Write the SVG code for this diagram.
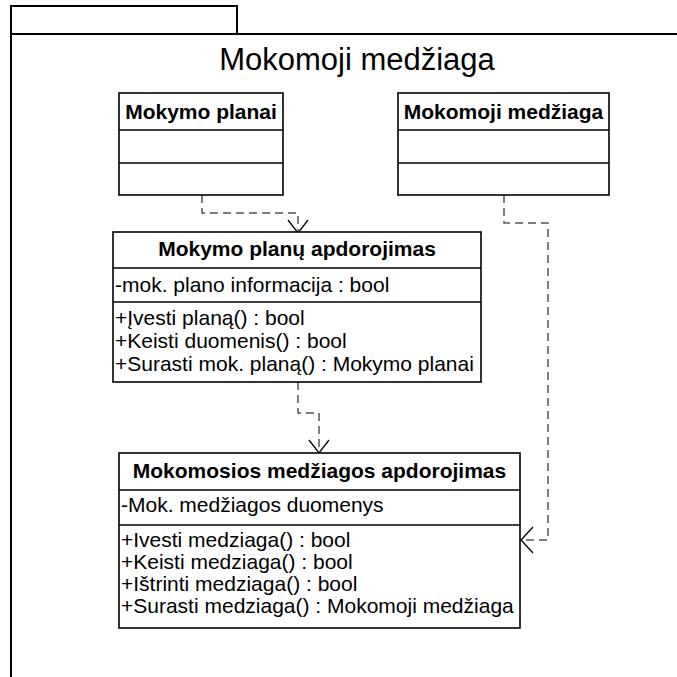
<svg xmlns="http://www.w3.org/2000/svg" width="677" height="677" viewBox="0 0 677 677">
<style>
.frame{fill:none;stroke:#000;stroke-width:2}
.box{fill:#fff;stroke:#000;stroke-width:1.6}
.sep{stroke:#000;stroke-width:1.6}
.t{font-family:"Liberation Sans",Arial,sans-serif;font-size:21px;fill:#000}
.h{font-family:"Liberation Sans",Arial,sans-serif;font-size:21px;font-weight:bold;fill:#000;text-anchor:middle}
.title{font-family:"Liberation Sans",Arial,sans-serif;font-size:31px;fill:#000;text-anchor:middle}
.dep{fill:none;stroke:#555;stroke-width:1.5;stroke-dasharray:8,5}
.head{fill:none;stroke:#000;stroke-width:1.3}
</style>
<rect width="677" height="677" fill="#fff"/>
<g id="package">
<path class="frame" d="M11,677 V6 H237 V34"/>
<path class="frame" d="M11,34 H677"/>
<text class="title" x="357" y="70">Mokomoji medžiaga</text>
</g>
<g id="connectors">
<path class="dep" d="M202,195 V213 H298 V233"/>
<path class="head" d="M288,220 L298,233 L308,220"/>
<path class="dep" d="M504,195 V223 H548 V540 H521"/>
<path class="head" d="M533,527 L521,540 L533,553"/>
<path class="dep" d="M298,382 V413 H319 V453"/>
<path class="head" d="M309,440 L319,453 L329,440"/>
</g>
<g id="mokymo-planai">
<rect class="box" x="119" y="93" width="164" height="102"/>
<line class="sep" x1="119" y1="130" x2="283" y2="130"/>
<line class="sep" x1="119" y1="163" x2="283" y2="163"/>
<text class="h" x="201" y="119">Mokymo planai</text>
</g>
<g id="mokomoji-medziaga">
<rect class="box" x="398" y="93" width="211" height="102"/>
<line class="sep" x1="398" y1="130" x2="609" y2="130"/>
<line class="sep" x1="398" y1="163" x2="609" y2="163"/>
<text class="h" x="503.5" y="119">Mokomoji medžiaga</text>
</g>
<g id="mokymo-planu-apdorojimas">
<rect class="box" x="113" y="232" width="368" height="150"/>
<line class="sep" x1="113" y1="268" x2="481" y2="268"/>
<line class="sep" x1="113" y1="302" x2="481" y2="302"/>
<text class="h" x="297" y="256">Mokymo planų apdorojimas</text>
<text class="t" x="115" y="292">-mok. plano informacija : bool</text>
<text class="t" x="115" y="325">+Įvesti planą() : bool</text>
<text class="t" x="115" y="348">+Keisti duomenis() : bool</text>
<text class="t" x="115" y="371">+Surasti mok. planą() : Mokymo planai</text>
</g>
<g id="mokomosios-medziagos-apdorojimas">
<rect class="box" x="119" y="453" width="401" height="175"/>
<line class="sep" x1="119" y1="490" x2="520" y2="490"/>
<line class="sep" x1="119" y1="525" x2="520" y2="525"/>
<text class="h" x="319.5" y="478">Mokomosios medžiagos apdorojimas</text>
<text class="t" x="121" y="512">-Mok. medžiagos duomenys</text>
<text class="t" x="121" y="547">+Ivesti medziaga() : bool</text>
<text class="t" x="121" y="569">+Keisti medziaga() : bool</text>
<text class="t" x="121" y="591">+Ištrinti medziaga() : bool</text>
<text class="t" x="121" y="613">+Surasti medziaga() : Mokomoji medžiaga</text>
</g>
</svg>
